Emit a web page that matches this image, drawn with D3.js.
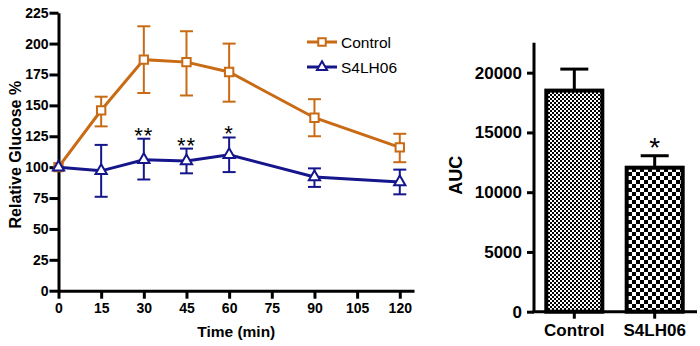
<!DOCTYPE html>
<html>

<head>
    <script src="https://d3js.org/d3.v7.min.js"></script>
    <style>
        body { margin: 0; background: white; }
    </style>
    <script>
        const width = 700
        const height = 346
        const fontFamily = "Liberation Sans, Arial, sans-serif"

        // time course data
        const times = [0, 15, 30, 45, 60, 90, 120]
        const controlMean = [100, 146, 187, 185, 177, 140, 116]
        const controlUpper = [100, 157, 214, 210, 200, 155, 127]
        const controlLower = [100, 133, 160, 158, 153, 125, 104]
        const s4Mean = [100, 97, 106, 105, 110, 92, 88]
        const s4Upper = [101, 118, 123, 115, 124, 99, 98]
        const s4Lower = [99, 76, 90, 95, 96, 84, 78]
        const sigTimes = [30, 45, 60]
        const sigLabels = ["**", "**", "*"]
        const xTicks = [0, 15, 30, 45, 60, 75, 90, 105, 120]
        const yTicks = [0, 25, 50, 75, 100, 125, 150, 175, 200, 225]

        // AUC data
        const groups = ["Control", "S4LH06"]
        const aucMean = [18500, 12050]
        const aucUpper = [20300, 13050]
        const aucSig = ["", "*"]
        const aucTicks = [0, 5000, 10000, 15000, 20000]

        const orange = "#c96a14"
        const navy = "#16168c"

        function styleAxis(g, fontSize) {
            g.attr("font-size", fontSize).attr("font-family", fontFamily).attr("font-weight", "bold")
            g.select(".domain").attr("stroke", "black").attr("stroke-width", 3)
            g.selectAll(".tick line").attr("stroke", "black").attr("stroke-width", 3)
            g.selectAll("text")
                .attr("fill", "black")
                .style("font-size", fontSize + "px")
                .style("font-weight", "bold")
        }

        function drawTimeCourse(svg) {
            const x = d3.scaleLinear().domain([0, 125]).range([58.5, 414])
            const y = d3.scaleLinear().domain([0, 225]).range([290.7, 12.7])

            const yAxis = svg.append("g")
                .attr("transform", `translate(${x(0)},0)`)
                .call(d3.axisLeft(y).tickValues(yTicks).tickSize(9).tickSizeOuter(0).tickPadding(1))
            styleAxis(yAxis, 14)

            const xAxis = svg.append("g")
                .attr("transform", `translate(0,${y(0)})`)
                .call(d3.axisBottom(x).tickValues(xTicks).tickSize(8).tickSizeOuter(0).tickPadding(4.5))
            styleAxis(xAxis, 14)

            svg.append("text")
                .text("Time (min)")
                .attr("x", (x(0) + x(125)) / 2)
                .attr("y", 337)
                .attr("text-anchor", "middle")
                .style("font-family", fontFamily)
                .style("font-weight", "bold")
                .style("font-size", "15.5px")

            svg.append("text")
                .text("Relative Glucose %")
                .attr("transform", `translate(21,${(y(0) + y(225)) / 2 + 3}) rotate(-90)`)
                .attr("text-anchor", "middle")
                .style("font-family", fontFamily)
                .style("font-weight", "bold")
                .style("font-size", "16px")

            const series = [
                { name: "Control", color: orange, mean: controlMean, upper: controlUpper, lower: controlLower, symbol: d3.symbolSquare, size: 70 },
                { name: "S4LH06", color: navy, mean: s4Mean, upper: s4Upper, lower: s4Lower, symbol: d3.symbolTriangle, size: 55 }
            ]

            const line = d3.line()
                .x((d) => x(d.t))
                .y((d) => y(d.v))

            series.forEach((s) => {
                const pts = times.map((t, i) => ({ t: t, v: s.mean[i], hi: s.upper[i], lo: s.lower[i] }))
                const g = svg.append("g")
                // error bars
                pts.forEach((p) => {
                    if (p.hi - p.lo < 3) return
                    g.append("line").attr("x1", x(p.t)).attr("x2", x(p.t)).attr("y1", y(p.hi)).attr("y2", y(p.lo))
                        .attr("stroke", s.color).attr("stroke-width", 2)
                    g.append("line").attr("x1", x(p.t) - 6.5).attr("x2", x(p.t) + 6.5).attr("y1", y(p.hi)).attr("y2", y(p.hi))
                        .attr("stroke", s.color).attr("stroke-width", 2)
                    g.append("line").attr("x1", x(p.t) - 6.5).attr("x2", x(p.t) + 6.5).attr("y1", y(p.lo)).attr("y2", y(p.lo))
                        .attr("stroke", s.color).attr("stroke-width", 2)
                })
                g.append("path")
                    .attr("d", line(pts))
                    .attr("fill", "none")
                    .attr("stroke", s.color)
                    .attr("stroke-width", 3)
                g.selectAll(".marker")
                    .data(pts)
                    .enter()
                    .append("path")
                    .attr("d", d3.symbol().type(s.symbol).size(s.size))
                    .attr("transform", (d) => `translate(${x(d.t)},${y(d.v)})`)
                    .attr("fill", "white")
                    .attr("stroke", s.color)
                    .attr("stroke-width", 2)
            })

            // significance stars
            sigTimes.forEach((t, i) => {
                const idx = times.indexOf(t)
                svg.append("text")
                    .text(sigLabels[i])
                    .attr("x", x(t))
                    .attr("y", y(s4Upper[idx]) + 4)
                    .attr("text-anchor", "middle")
                    .style("font-family", fontFamily)
                    .style("font-size", "22px")
                    .style("letter-spacing", "1px")
            })

            // legend
            series.forEach((s, i) => {
                const ly = 42 + i * 25
                const lg = svg.append("g")
                lg.append("line").attr("x1", 307).attr("x2", 337).attr("y1", ly).attr("y2", ly)
                    .attr("stroke", s.color).attr("stroke-width", 3)
                lg.append("path")
                    .attr("d", d3.symbol().type(s.symbol).size(s.size * 0.8))
                    .attr("transform", `translate(322,${ly})`)
                    .attr("fill", "white")
                    .attr("stroke", s.color)
                    .attr("stroke-width", 2)
                lg.append("text")
                    .text(s.name)
                    .attr("x", 341)
                    .attr("y", ly)
                    .attr("dy", "0.36em")
                    .style("font-family", fontFamily)
                    .style("font-size", "15.5px")
            })
        }

        function drawAuc(svg) {
            const defs = svg.append("defs")
            // fine checkerboard for control, coarse for S4LH06
            const patterns = [{ id: "checkFine", s: 2 }, { id: "checkCoarse", s: 4 }]
            patterns.forEach((p) => {
                const pat = defs.append("pattern")
                    .attr("id", p.id)
                    .attr("patternUnits", "userSpaceOnUse")
                    .attr("width", p.s * 2)
                    .attr("height", p.s * 2)
                pat.append("rect").attr("width", p.s * 2).attr("height", p.s * 2).attr("fill", "white")
                pat.append("rect").attr("width", p.s).attr("height", p.s).attr("fill", "black")
                pat.append("rect").attr("x", p.s).attr("y", p.s).attr("width", p.s).attr("height", p.s).attr("fill", "black")
            })

            const x = d3.scaleBand().domain(groups).range([534, 695]).paddingInner(0.303).paddingOuter(0.153)
            const y = d3.scaleLinear().domain([0, 22500]).range([311.7, 42.8])

            // error bars first so the bar outline covers the stem
            groups.forEach((gname, i) => {
                const cx = x(gname) + x.bandwidth() / 2
                svg.append("line").attr("x1", cx).attr("x2", cx).attr("y1", y(aucMean[i])).attr("y2", y(aucUpper[i]))
                    .attr("stroke", "black").attr("stroke-width", 3)
                svg.append("line").attr("x1", cx - 14).attr("x2", cx + 14).attr("y1", y(aucUpper[i])).attr("y2", y(aucUpper[i]))
                    .attr("stroke", "black").attr("stroke-width", 3)
                if (aucSig[i]) {
                    svg.append("text")
                        .text(aucSig[i])
                        .attr("x", cx)
                        .attr("y", y(aucUpper[i]) + 1)
                        .attr("text-anchor", "middle")
                        .style("font-family", fontFamily)
                        .style("font-size", "28px")
                }
            })

            svg.selectAll(".bar")
                .data(groups)
                .enter()
                .append("rect")
                .attr("class", "bar")
                .attr("x", (d) => x(d))
                .attr("width", x.bandwidth())
                .attr("y", (d, i) => y(aucMean[i]))
                .attr("height", (d, i) => y(0) - y(aucMean[i]))
                .attr("fill", (d, i) => `url(#${patterns[i].id})`)
                .attr("stroke", "black")
                .attr("stroke-width", 4)

            const yAxis = svg.append("g")
                .attr("transform", `translate(534,0)`)
                .call(d3.axisLeft(y).tickValues(aucTicks).tickFormat(d3.format("d")).tickSize(7).tickSizeOuter(0).tickPadding(5))
            styleAxis(yAxis, 17)
            yAxis.select(".domain").attr("d", `M0,${y(0)}V${y(22500)}`)

            const xAxis = svg.append("g")
                .attr("transform", `translate(0,${y(0)})`)
                .call(d3.axisBottom(x).tickSize(7).tickSizeOuter(0).tickPadding(5))
            styleAxis(xAxis, 17)
            xAxis.select(".domain").attr("d", `M532.5,0H697`)

            svg.append("text")
                .text("AUC")
                .attr("transform", `translate(462,${(y(0) + y(22500)) / 2 - 2}) rotate(-90)`)
                .attr("text-anchor", "middle")
                .style("font-family", fontFamily)
                .style("font-weight", "bold")
                .style("font-size", "18px")
        }

        function initialize() {
            const svg = d3.select("body").append("svg").attr("width", width).attr("height", height)
            svg.append("rect").attr("width", width).attr("height", height).attr("fill", "white")
            drawTimeCourse(svg)
            drawAuc(svg)
        }
    </script>
</head>

<body onload="initialize()">
</body>

</html>
